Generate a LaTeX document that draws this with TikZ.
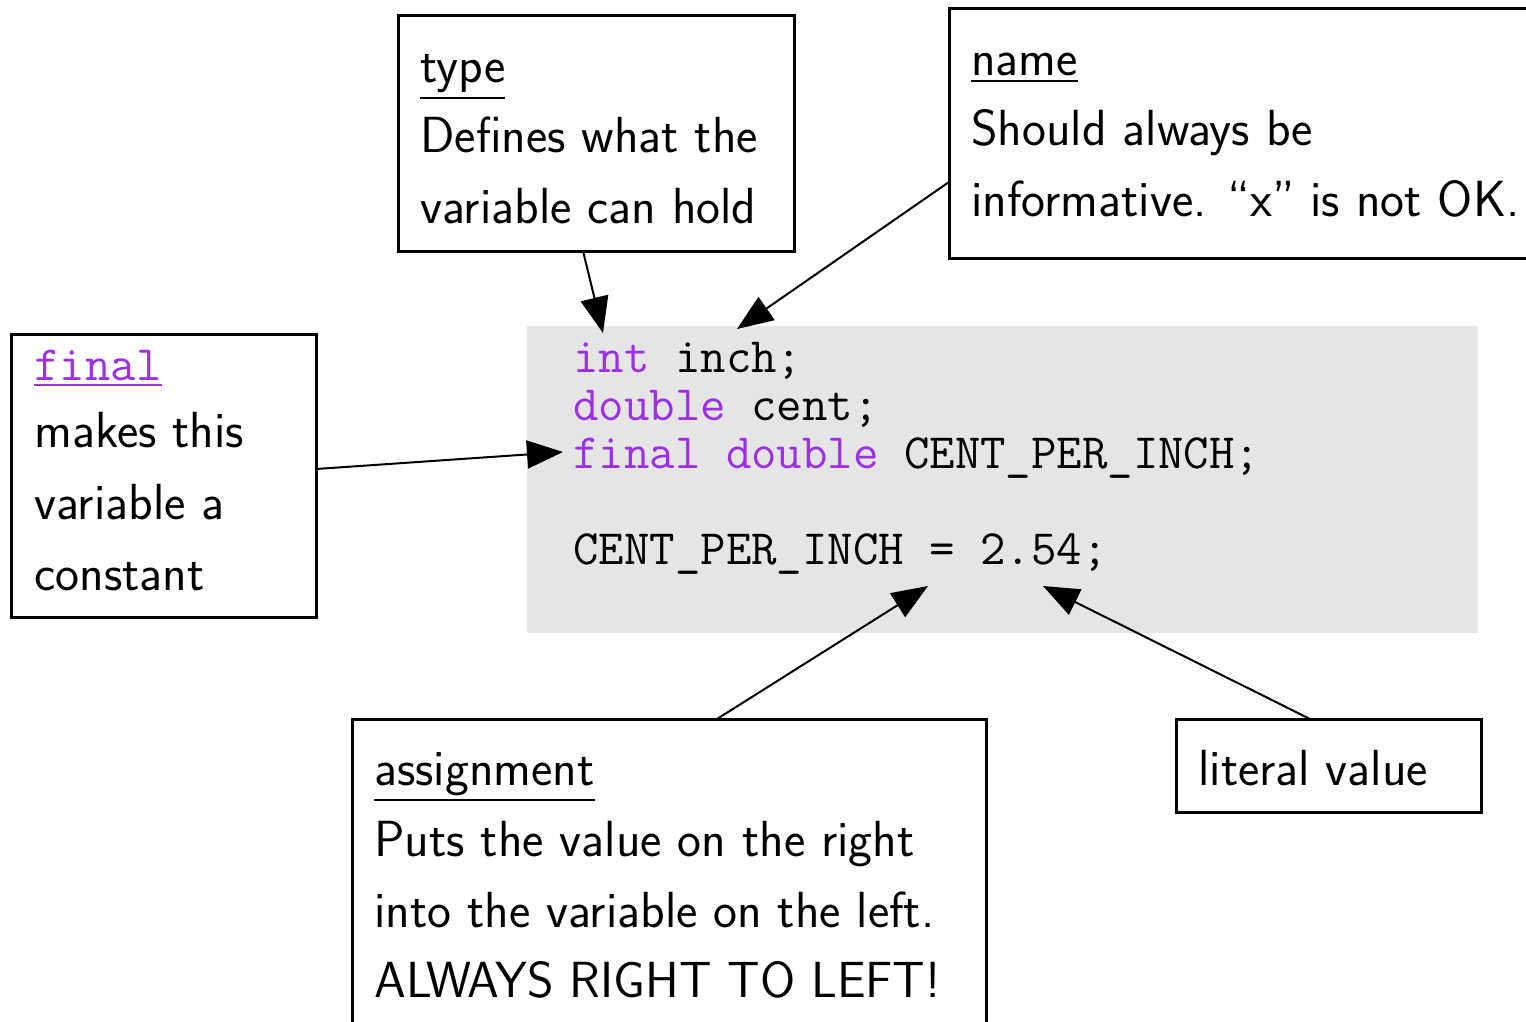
\documentclass[tikz,border=0pt]{standalone}
\usetikzlibrary{arrows.meta}
\definecolor{kw}{RGB}{155,48,230}
\definecolor{codebg}{RGB}{229,229,229}
\newcommand\ulthick[1]{\leavevmode\setbox0\hbox{#1}\rlap{\rule[-\dimexpr\dp0+3pt\relax]{\wd0}{1.3pt}}\box0}
\begin{document}
\begin{tikzpicture}[x=0.5pt,y=-0.5pt,
  box/.style={draw,line width=1.5pt,rectangle,anchor=north west,inner sep=0pt,outer sep=0pt},
  txt/.style={anchor=base west,inner sep=0pt,font=\sffamily\fontsize{25.4}{30}\selectfont},
  code/.style={anchor=base west,inner sep=0pt,font=\ttfamily\fontsize{24.7}{29}\selectfont},
  conn/.style={line width=1pt,-{Triangle[length=18pt,width=14pt]}}]
\useasboundingbox (0,0) rectangle (1526,1022);

% code block
\node[fill=codebg,anchor=north west,minimum width=475.5pt,minimum height=153.5pt,inner sep=0pt] (codebox) at (527,326) {};
\node[code] (c1) at (573,372) {\textcolor{kw}{int} inch;};
\node[code] (c2) at (573,420) {\textcolor{kw}{double} cent;};
\node[code] (c3) at (573,468) {\textcolor{kw}{final double} CENT\_PER\_INCH;};
\node[code] (c4) at (573,564) {CENT\_PER\_INCH = 2.54;};

% type box
\node[box,minimum width=198pt,minimum height=117.5pt] (type) at (398,16) {};
\node[txt] (type1) at (420,83) {\ulthick{type}};
\node[txt] (type2) at (420,153) {Defines what the};
\node[txt] (type3) at (420,223) {variable can hold};

% name box
\node[box,minimum width=300pt,minimum height=124.5pt] (name) at (949,9) {};
\node[txt] (name1) at (971,76) {\ulthick{name}};
\node[txt] (name2) at (971,146) {Should always be};
\node[txt] (name3) at (971,216) {informative. ``x'' is not OK.};

% final box
\node[box,minimum width=152.5pt,minimum height=141.5pt] (final) at (11,334) {};
\node[anchor=base west,inner sep=0pt,font=\ttfamily\fontsize{24.7}{29}\selectfont,text=kw] (final1) at (34,380) {\ulthick{final}};
\node[txt] (final2) at (34,447) {makes this};
\node[txt] (final3) at (34,519) {variable a};
\node[txt] (final4) at (34,590) {constant};

% assignment box
\node[box,minimum width=317pt,minimum height=165pt] (assign) at (352,719) {};
\node[txt] (as1) at (374,785) {\ulthick{assignment}};
\node[txt] (as2) at (374,856) {Puts the value on the right};
\node[txt] (as3) at (374,927) {into the variable on the left.};
\node[txt] (as4) at (374,997) {ALWAYS RIGHT TO LEFT!};

% literal box
\node[box,minimum width=152.5pt,minimum height=46.5pt] (lit) at (1176,719) {};
\node[txt] (lit1) at (1198,785) {literal value};

% arrow targets
\coordinate (tInt) at (603,333);
\coordinate (tInch) at (737,329);
\coordinate (tFinal) at (563,452);
\coordinate (tEq) at (928,586);
\coordinate (tVal) at (1043,586);

\draw[conn] ([xshift=92.5pt]type.south west) -- (tInt);
\draw[conn] ([yshift=-86.5pt]name.north west) -- (tInch);
\draw[conn] ([yshift=-67.5pt]final.north east) -- (tFinal);
\draw[conn] ([xshift=182.5pt]assign.north west) -- (tEq);
\draw[conn] ([xshift=67pt]lit.north west) -- (tVal);
\end{tikzpicture}
\end{document}
